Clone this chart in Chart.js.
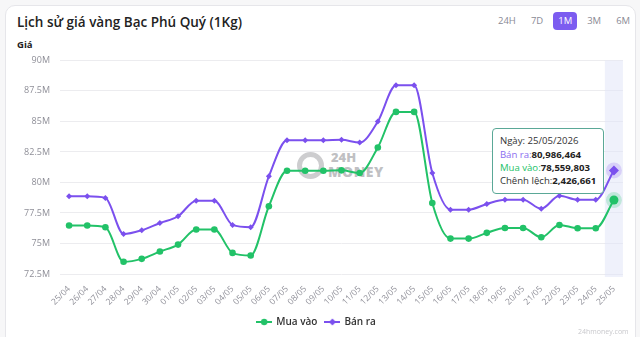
<!DOCTYPE html>
<html>
<head>
<meta charset="utf-8">
<script src="https://cdn.jsdelivr.net/npm/chart.js@4.4.1/dist/chart.umd.min.js"></script>
<style>
  html, body { margin: 0; padding: 0; background: #f7f7f8; font-family: "Open Sans", "Noto Sans", sans-serif; }
  #page { position: relative; width: 640px; height: 337px; overflow: hidden; }
  #card { position: absolute; left: 5px; top: 5px; width: 629px; height: 345px; background: #fff;
          border: 1px solid #e6e6ea; border-radius: 10px; }
  #title { position: absolute; left: 17px; top: 13px; font-size: 13.5px; font-weight: 600; color: #222; }
  #yTitle { position: absolute; left: 17px; top: 38px; font-size: 9.5px; font-weight: 700; color: #222; }
  #tabs { position: absolute; top: 12px; left: 493px; display: flex; font-size: 9.5px; color: #8a8a95; }
  #tabs span { display: inline-block; height: 18px; line-height: 18px; padding: 0 5px; margin-right: 5px; border-radius: 4px; }
  #tabs span.on { background: #7c5cf0; color: #fff; }
  #wm { position: absolute; left: 297px; top: 149px; color: rgba(130,130,135,0.5); font-weight: 800; }
  #wm .ring { position: absolute; left: 0; top: 3px; width: 17px; height: 17px; border: 5px solid rgba(130,130,135,0.4); border-radius: 50%; }
  #wm .t1 { position: absolute; left: 34px; top: -1px; font-size: 13px; }
  #wm .t2 { position: absolute; left: 31px; top: 13px; font-size: 14px; letter-spacing: 0.5px; }
  #chartBox { position: absolute; left: 10px; top: 45px; width: 620px; height: 292px; }
  #tip { position: absolute; background: #fff; border: 1px solid #5aa897; border-radius: 4px;
         padding: 5px 7px; font-size: 9.6px; line-height: 13.3px; color: #333; white-space: nowrap; }
  #tip b { font-weight: 700; color: #222; }
  #site { position: absolute; left: 578px; top: 327px; font-size: 7px; color: #c8c8cc; }
</style>
</head>
<body>
<div id="page">
  <div id="card"></div>
  <div id="title">Lịch sử giá vàng Bạc Phú Quý (1Kg)</div>
  <div id="yTitle">Giá</div>
  <div id="tabs"><span>24H</span><span>7D</span><span class="on">1M</span><span>3M</span><span>6M</span></div>
  <div id="wm"><div class="ring"></div><div class="t1">24H</div><div class="t2">MONEY</div></div>
  <div id="chartBox"><canvas id="priceChart"></canvas></div>
  <div id="tip"></div>
  <div id="site">24hmoney.com</div>
</div>
<script>
// ========== DATA ==========
const year = "2026";
const dates = ["25/04", "26/04", "27/04", "28/04", "29/04", "30/04", "01/05", "02/05", "03/05", "04/05",
  "05/05", "06/05", "07/05", "08/05", "09/05", "10/05", "11/05", "12/05", "13/05", "14/05", "15/05",
  "16/05", "17/05", "18/05", "19/05", "20/05", "21/05", "22/05", "23/05", "24/05", "25/05"];
const muaVao = [76470000, 76470000, 76330000, 73500000, 73740000, 74340000, 74910000, 76140000, 76140000, 74230000,
  74010000, 78050000, 80960000, 80960000, 80960000, 80990000, 80770000, 82870000, 85780000, 85780000, 78320000,
  75400000, 75400000, 75870000, 76270000, 76270000, 75510000, 76520000, 76250000, 76250000, 78559803];
const banRa = [78860000, 78860000, 78730000, 75780000, 76090000, 76680000, 77230000, 78510000, 78510000, 76520000,
  76330000, 80500000, 83460000, 83460000, 83460000, 83490000, 83270000, 84990000, 87960000, 87960000, 80770000,
  77770000, 77770000, 78240000, 78590000, 78590000, 77850000, 78910000, 78590000, 78590000, 80986464];
const yTicks = [72500000, 75000000, 77500000, 80000000, 82500000, 85000000, 87500000, 90000000];
const activeIndex = dates.length - 1;

const GREEN = "#22c268";
const PURPLE = "#7b50ee";

// ========== LEGEND MARKERS ==========
function legendMarker(color, style) {
  const c = document.createElement("canvas");
  c.width = 16; c.height = 8;
  const g = c.getContext("2d");
  g.strokeStyle = color; g.fillStyle = color; g.lineWidth = 2;
  g.beginPath(); g.moveTo(0, 4); g.lineTo(16, 4); g.stroke();
  g.beginPath();
  if (style === "circle") {
    g.arc(8, 4, 3.2, 0, Math.PI * 2);
  } else {
    g.moveTo(8, 0.5); g.lineTo(11.5, 4); g.lineTo(8, 7.5); g.lineTo(4.5, 4); g.closePath();
  }
  g.fill();
  return c;
}

// ========== HOVER BAND + HALOS ==========
const hoverPlugin = {
  id: "hoverPlugin",
  beforeDatasetsDraw(chart) {
    const ctx = chart.ctx;
    const el = chart.getDatasetMeta(0).data[activeIndex];
    const a = chart.chartArea;
    ctx.save();
    ctx.fillStyle = "rgba(226,229,248,0.55)";
    ctx.fillRect(el.x - 9, a.top, 18, a.bottom - a.top + 3);
    ctx.restore();
  },
  afterDatasetsDraw(chart) {
    const ctx = chart.ctx;
    chart.data.datasets.forEach((ds, i) => {
      const el = chart.getDatasetMeta(i).data[activeIndex];
      ctx.save();
      ctx.fillStyle = i === 0 ? "rgba(34,194,104,0.22)" : "rgba(123,80,238,0.2)";
      ctx.beginPath(); ctx.arc(el.x, el.y, 8, 0, Math.PI * 2); ctx.fill();
      ctx.fillStyle = ds.borderColor;
      ctx.beginPath();
      if (i === 0) {
        ctx.arc(el.x, el.y, 4.5, 0, Math.PI * 2);
      } else {
        ctx.moveTo(el.x, el.y - 5); ctx.lineTo(el.x + 5, el.y); ctx.lineTo(el.x, el.y + 5); ctx.lineTo(el.x - 5, el.y); ctx.closePath();
      }
      ctx.fill();
      ctx.restore();
    });
  },
};

// ========== CHART ==========
const fmt = (v) => v.toLocaleString("en-US");

const chart = new Chart(document.getElementById("priceChart"), {
  type: "line",
  data: {
    labels: dates,
    datasets: [
      { label: "Mua vào", data: muaVao, borderColor: GREEN, backgroundColor: GREEN, borderWidth: 2,
        pointStyle: "circle", pointRadius: 3.3, pointBorderWidth: 0, cubicInterpolationMode: "monotone" },
      { label: "Bán ra", data: banRa, borderColor: PURPLE, backgroundColor: PURPLE, borderWidth: 2,
        pointStyle: "rectRot", pointRadius: 3, pointBorderWidth: 0, cubicInterpolationMode: "monotone" },
    ],
  },
  options: {
    responsive: true,
    maintainAspectRatio: false,
    animation: false,
    events: [],
    layout: { padding: { top: 12, right: 7, left: 0, bottom: 0 } },
    scales: {
      y: {
        min: yTicks[0],
        max: yTicks[yTicks.length - 1],
        afterBuildTicks: (s) => { s.ticks = yTicks.map((v) => ({ value: v })); },
        afterFit: (s) => { s.width = 50; },
        border: { display: false },
        grid: { color: "#ececef", drawTicks: false },
        ticks: {
          padding: 10,
          color: "#8f8f98",
          font: { size: 9, family: "Open Sans" },
          callback: (v) => v / 1000000 + "M",
        },
      },
      x: {
        offset: true,
        afterFit: (s) => { s.height = 35; },
        border: { display: false },
        grid: { display: false },
        ticks: {
          autoSkip: false,
          minRotation: 45,
          maxRotation: 45,
          padding: 2,
          color: "#8f8f98",
          font: { size: 8.5, family: "Open Sans" },
        },
      },
    },
    plugins: {
      tooltip: { enabled: false },
      legend: {
        position: "bottom",
        labels: {
          usePointStyle: true,
          pointStyleWidth: 14,
          padding: 8,
          color: "#333",
          font: { size: 10, weight: "600", family: "Open Sans" },
          generateLabels: (c) => c.data.datasets.map((ds, i) => ({
            text: ds.label,
            fontColor: "#333",
            pointStyle: legendMarker(ds.borderColor, i === 0 ? "circle" : "rectRot"),
            datasetIndex: i,
            lineWidth: 0,
            strokeStyle: "transparent",
            fillStyle: "transparent",
          })),
        },
      },
    },
  },
  plugins: [hoverPlugin],
});

// ========== TOOLTIP (static, for the last day) ==========
const tip = document.getElementById("tip");
tip.innerHTML =
  "Ngày: " + dates[activeIndex] + "/" + year + "<br>" +
  '<span style="color:' + "#8a6ef0" + '">Bán ra:</span><b>' + fmt(banRa[activeIndex]) + "</b><br>" +
  '<span style="color:' + GREEN + '">Mua vào:</span><b>' + fmt(muaVao[activeIndex]) + "</b><br>" +
  "Chênh lệch:<b>" + fmt(banRa[activeIndex] - muaVao[activeIndex]) + "</b>";
const pt = chart.getDatasetMeta(1).data[activeIndex];
const box = document.getElementById("chartBox");
tip.style.left = (box.offsetLeft + pt.x - 10 - tip.offsetWidth) + "px";
tip.style.top = (box.offsetTop + pt.y - 42) + "px";
</script>
</body>
</html>
